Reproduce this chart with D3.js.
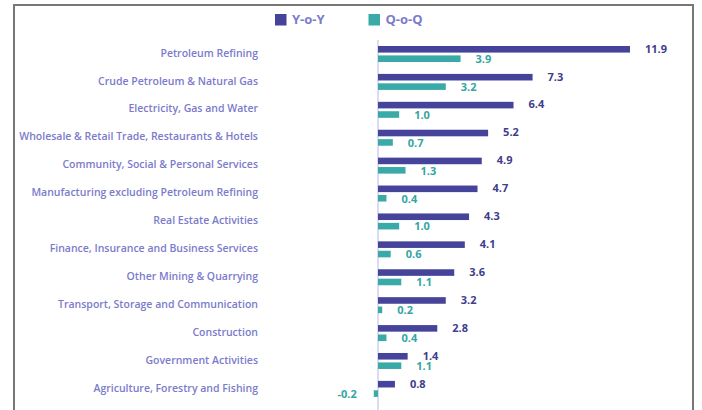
<!DOCTYPE html>
<html>
<head>
<meta charset="utf-8">
<script src="https://d3js.org/d3.v7.min.js"></script>
<style>
body { margin:0; background:#fff; }
text { font-family: "Open Sans", "Noto Sans", sans-serif; }
</style>
</head>
<body>
<svg width="702" height="410"></svg>
<script>
// sectors, top to bottom
var sectors = ["Petroleum Refining", "Crude Petroleum & Natural Gas", "Electricity, Gas and Water",
  "Wholesale & Retail Trade, Restaurants & Hotels", "Community, Social & Personal Services",
  "Manufacturing excluding Petroleum Refining", "Real Estate Activities",
  "Finance, Insurance and Business Services", "Other Mining & Quarrying",
  "Transport, Storage and Communication", "Construction", "Government Activities",
  "Agriculture, Forestry and Fishing"];
var yoy = [11.9, 7.3, 6.4, 5.2, 4.9, 4.7, 4.3, 4.1, 3.6, 3.2, 2.8, 1.4, 0.8];
var qoq = [3.9, 3.2, 1.0, 0.7, 1.3, 0.4, 1.0, 0.6, 1.1, 0.2, 0.4, 1.1, -0.2];
var seriesNames = ["Y-o-Y", "Q-o-Q"];
var colors = ["#46449a", "#3aaaa8"];
var labelColors = ["#3f3d8c", "#35a5a2"];

var svg = d3.select("svg");

// frame
svg.append("path")
  .attr("d", "M14,410 V5 H693 V410")
  .attr("fill", "none")
  .attr("stroke", "#777")
  .attr("stroke-width", 2);

var x = d3.scaleLinear().domain([0, 12]).range([378, 632.1]);
var y = d3.scaleBand().domain(sectors).range([40, 402.8]);
var inner = d3.scaleBand().domain(seriesNames).range([6, 22]).paddingInner(0.3);

// zero line
svg.append("line")
  .attr("x1", x(0)).attr("x2", x(0))
  .attr("y1", 40).attr("y2", 410)
  .attr("stroke", "#dcdcf0").attr("stroke-width", 2);

var rows = sectors.map(function(s, i) { return { name: s, vals: [yoy[i], qoq[i]] }; });

var g = svg.append("g").selectAll("g").data(rows).enter().append("g")
  .attr("transform", function(d) { return "translate(0," + y(d.name) + ")"; });

g.append("text")
  .attr("x", 258)
  .attr("y", y.bandwidth() / 2 - 1)
  .attr("dy", "0.35em")
  .attr("text-anchor", "end")
  .attr("font-size", 10.5)
  .attr("font-weight", 600)
  .attr("fill", "#7b7bcb")
  .text(function(d) { return d.name; });

seriesNames.forEach(function(s, k) {
  g.append("rect")
    .attr("x", function(d) { return x(Math.min(0, d.vals[k])); })
    .attr("width", function(d) { return Math.max(1.5, Math.abs(x(d.vals[k]) - x(0))); })
    .attr("y", inner(s))
    .attr("height", inner.bandwidth())
    .attr("fill", colors[k]);

  g.append("text")
    .attr("x", function(d) { return d.vals[k] < 0 ? x(d.vals[k]) - 17 : x(d.vals[k]) + 15; })
    .attr("y", inner(s) + inner.bandwidth() / 2 + (k === 0 ? -0.5 : 0.5))
    .attr("dy", "0.35em")
    .attr("text-anchor", function(d) { return d.vals[k] < 0 ? "end" : "start"; })
    .attr("font-size", 11)
    .attr("font-weight", 700)
    .attr("fill", labelColors[k])
    .text(function(d) { return d.vals[k].toFixed(1); });
});

// legend
var lg = svg.append("g").selectAll("g").data(seriesNames).enter().append("g")
  .attr("transform", function(d, i) { return "translate(" + (275 + i * 93.5) + ",14)"; });
lg.append("rect").attr("width", 11.5).attr("height", 11.5)
  .attr("fill", function(d, i) { return colors[i]; });
lg.append("text")
  .attr("x", 17).attr("y", 5).attr("dy", "0.35em")
  .attr("font-size", 13).attr("font-weight", 700)
  .attr("fill", "#7b7bcb")
  .text(function(d) { return d; });
</script>
</body>
</html>
